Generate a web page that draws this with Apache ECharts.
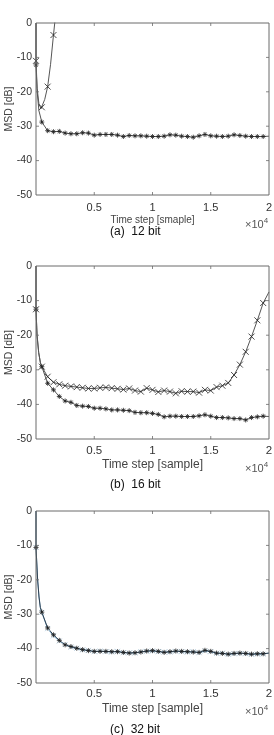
<!DOCTYPE html>
<html>
<head>
<meta charset="utf-8">
<script src="https://cdn.jsdelivr.net/npm/echarts@6/dist/echarts.min.js"></script>
<style>
	html, body { margin: 0; padding: 0; background: #fff; }
	#main { width: 274px; height: 735px; }
</style>
</head>
<body>
<div id="main"></div>
<script>
// marker positions (samples), one marker every 500 samples
var markSteps = [0, 500, 1000, 1500, 2000, 2500, 3000, 3500, 4000, 4500,
	5000, 5500, 6000, 6500, 7000, 7500, 8000, 8500, 9000, 9500,
	10000, 10500, 11000, 11500, 12000, 12500, 13000, 13500, 14000, 14500,
	15000, 15500, 16000, 16500, 17000, 17500, 18000, 18500, 19000, 19500];

// (a) 12 bit
var a12Star = [-12.2, -28.8, -31.3, -31.6, -31.5, -32.0, -32.2, -32.2, -31.9, -32.0,
	-32.6, -32.4, -32.4, -32.4, -32.6, -33.0, -32.7, -32.8, -32.8, -32.9,
	-33.0, -33.0, -32.9, -32.5, -32.6, -32.9, -33.0, -33.2, -32.8, -32.4,
	-32.8, -32.9, -33.0, -32.9, -32.5, -32.7, -32.9, -33.0, -33.0, -33.0];
var a12StarExtraSteps = [0, 100, 250, 20000];
var a12StarExtra = [0, -20, -25.5, -32.9];
var a12CrossSteps = [0, 500, 1000, 1500];
var a12Cross = [-11, -24.5, -18.5, -3.5];
var a12CrossExtraSteps = [0, 100, 250, 430, 750, 1250, 1700];
var a12CrossExtra = [0, -19, -23.5, -24.9, -22.2, -12, 3];

// (b) 16 bit
var b16Cross = [-12.5, -29.1, -32.0, -33.6, -34.2, -34.6, -34.8, -35.0, -35.2, -35.4,
	-35.4, -35.2, -35.1, -35.3, -35.5, -35.7, -35.4, -36.0, -36.3, -35.3,
	-35.8, -36.4, -36.0, -36.3, -36.8, -36.2, -36.3, -36.3, -36.6, -35.8,
	-36.0, -35.0, -34.6, -33.8, -31.5, -28.5, -24.8, -20.4, -15.7, -10.7];
var b16CrossExtraSteps = [0, 90, 230, 380, 20000];
var b16CrossExtra = [0, -20, -25, -28, -7.5];
var b16Star = [-12.5, -29.1, -33.9, -35.8, -37.7, -39.0, -39.4, -40.3, -40.5, -40.6,
	-41.1, -41.1, -41.3, -41.6, -41.6, -41.7, -41.8, -42.3, -42.4, -42.4,
	-42.6, -42.9, -43.6, -43.4, -43.4, -43.5, -43.5, -43.5, -43.3, -43.0,
	-43.4, -43.8, -43.8, -43.9, -44.1, -44.1, -44.5, -43.8, -43.6, -43.4];
var b16StarExtraSteps = [0, 90, 230, 380, 20000];
var b16StarExtra = [0, -20, -25, -28, -43.5];

// (c) 32 bit
var c32Star = [-10.6, -29.4, -34.0, -36.0, -37.6, -38.9, -39.4, -39.9, -40.3, -40.6,
	-40.8, -40.8, -40.8, -40.9, -40.9, -41.1, -41.3, -41.2, -41.0, -40.7,
	-40.6, -40.8, -41.1, -40.9, -40.7, -40.8, -40.9, -41.0, -41.1, -40.5,
	-40.8, -41.3, -41.4, -41.6, -41.4, -41.3, -41.4, -41.6, -41.5, -41.5];
var c32Blue = [-10.6, -29.5, -34.2, -36.3, -37.8, -38.8, -39.6, -39.9, -40.4, -40.5,
	-40.9, -40.7, -40.9, -41.0, -40.8, -41.2, -41.2, -41.3, -40.9, -40.8,
	-40.7, -40.9, -41.0, -41.0, -40.8, -40.9, -41.0, -40.9, -41.2, -40.7,
	-40.9, -41.4, -41.3, -41.7, -41.5, -41.4, -41.5, -41.7, -41.6, -41.6];
var c32ExtraSteps = [0, 140, 260, 370, 20000];
var c32Extra = [0, -20, -25, -28, -41.3];

// axis range and tick values
var xMin = 0, xMax = 20000;
var yMin = -50, yMax = 0;
var xTickVals = [5000, 10000, 15000];
var yTickVals = [-10, -20, -30, -40];

// marker shapes
var SYM_X = 'path://M0,0L10,10M10,0L0,10';
var SYM_STAR = 'path://M5,0L5,10M0,5L10,5M1.6,1.6L8.4,8.4M8.4,1.6L1.6,8.4';

function pairs(xs, ys) {
	var out = [];
	for (var i = 0; i < ys.length; i++) {
		out.push([xs[i], ys[i]]);
	}
	return out;
}

// line = extra points + marker points, ordered by sample
function lineData(extraX, extraY, markX, markY) {
	var all = pairs(extraX, extraY).concat(pairs(markX, markY));
	all.sort(function(a, b) { return a[0] - b[0]; });
	return all;
}

var panels = [
	{ top: 23, height: 172, xName: 'Time step [smaple]', xNameSize: 10, tickSize: 11, tickMargin: 7, caption: '(a)  12 bit', capY: 233, expY: 224 },
	{ top: 266, height: 173, xName: 'Time step [sample]', xNameSize: 12, tickSize: 11.5, tickMargin: 6, caption: '(b)  16 bit', capY: 486, expY: 468 },
	{ top: 511, height: 172, xName: 'Time step [sample]', xNameSize: 12, tickSize: 11.5, tickMargin: 5, caption: '(c)  32 bit', capY: 731, expY: 711 }
];

var grids = [], xAxes = [], yAxes = [], series = [], graphics = [];
var frameColor = '#6a6a6a';

for (var p = 0; p < panels.length; p++) {
	var pn = panels[p];
	grids.push({
		left: 36, width: 233, top: pn.top, height: pn.height,
		outerBoundsMode: 'none'
	});

	xAxes.push({
		gridIndex: p, type: 'value', position: 'bottom', min: xMin, max: xMax, interval: 5000,
		name: pn.xName, nameLocation: 'middle', nameGap: 20, nameMoveOverlap: false,
		nameTextStyle: { fontSize: pn.xNameSize, color: '#444', fontFamily: 'Liberation Sans' },
		axisLine: { show: false },
		axisTick: { show: false },
		axisLabel: {
			fontSize: pn.tickSize, color: '#333', fontFamily: 'Liberation Sans', margin: pn.tickMargin,
			showMinLabel: false,
			formatter: function(v) { return String(v / 10000); }
		},
		splitLine: { show: false }
	});
	yAxes.push({
		gridIndex: p, type: 'value', position: 'left', min: yMin, max: yMax, interval: 10,
		name: 'MSD [dB]', nameLocation: 'middle', nameGap: 21, nameMoveOverlap: false,
		nameTextStyle: { fontSize: 10.5, color: '#444', fontFamily: 'Liberation Sans' },
		axisLine: { show: false },
		axisTick: { show: false },
		axisLabel: { fontSize: 10.5, color: '#333', fontFamily: 'Liberation Sans', margin: 4 },
		splitLine: { show: false }
	});

	// box round the plot, drawn through the axes
	series.push({
		type: 'line', xAxisIndex: p, yAxisIndex: p, clip: false, showSymbol: false,
		data: [[xMin, yMax], [xMax, yMax], [xMax, yMin], [xMin, yMin], [xMin, yMax]],
		lineStyle: { color: frameColor, width: 1 }, z: 6, silent: true
	});
	// inward ticks on all four sides
	var tickStyle = { color: frameColor };
	series.push({
		type: 'scatter', xAxisIndex: p, yAxisIndex: p, clip: false, silent: true, z: 6,
		data: pairs(xTickVals, [yMin, yMin, yMin]),
		symbol: 'rect', symbolSize: [1, 3], symbolOffset: [0, -1.5], itemStyle: tickStyle
	});
	series.push({
		type: 'scatter', xAxisIndex: p, yAxisIndex: p, clip: false, silent: true, z: 6,
		data: pairs(xTickVals, [yMax, yMax, yMax]),
		symbol: 'rect', symbolSize: [1, 3], symbolOffset: [0, 1.5], itemStyle: tickStyle
	});
	series.push({
		type: 'scatter', xAxisIndex: p, yAxisIndex: p, clip: false, silent: true, z: 6,
		data: pairs([xMin, xMin, xMin, xMin], yTickVals),
		symbol: 'rect', symbolSize: [3, 1], symbolOffset: [1.5, 0], itemStyle: tickStyle
	});
	series.push({
		type: 'scatter', xAxisIndex: p, yAxisIndex: p, clip: false, silent: true, z: 6,
		data: pairs([xMax, xMax, xMax, xMax], yTickVals),
		symbol: 'rect', symbolSize: [3, 1], symbolOffset: [-1.5, 0], itemStyle: tickStyle
	});

	graphics.push({
		type: 'text', left: 245, top: pn.expY - 7,
		style: {
			text: '{a|×10}{b|4}',
			rich: {
				a: { fontSize: 11, fill: '#555', fontFamily: 'Liberation Sans' },
				b: { fontSize: 8, fill: '#555', fontFamily: 'Liberation Sans', padding: [0, 0, 7, 0] }
			}
		}
	});
	graphics.push({
		type: 'text', left: 110, top: pn.capY - 7,
		style: { text: pn.caption, fontSize: 12, fill: '#111', fontFamily: 'Liberation Sans' }
	});
}

function addCurve(panelIdx, lineColor, lData, mData, sym, symSize, symColor) {
	series.push({
		type: 'line', xAxisIndex: panelIdx, yAxisIndex: panelIdx,
		data: lData, showSymbol: false,
		lineStyle: { color: lineColor, width: 1 }, z: 2
	});
	series.push({
		type: 'scatter', xAxisIndex: panelIdx, yAxisIndex: panelIdx,
		data: mData, symbol: sym, symbolSize: symSize,
		itemStyle: { color: 'transparent', borderColor: symColor, borderWidth: 1 }, z: 3
	});
}

// (a)
addCurve(0, '#555', lineData(a12StarExtraSteps, a12StarExtra, markSteps, a12Star),
	pairs(markSteps, a12Star), SYM_STAR, 5, '#222');
addCurve(0, '#555', lineData(a12CrossExtraSteps, a12CrossExtra, a12CrossSteps, a12Cross),
	pairs(a12CrossSteps, a12Cross), SYM_X, 6, '#222');
// (b)
addCurve(1, '#555', lineData(b16StarExtraSteps, b16StarExtra, markSteps, b16Star),
	pairs(markSteps, b16Star), SYM_STAR, 5, '#222');
addCurve(1, '#555', lineData(b16CrossExtraSteps, b16CrossExtra, markSteps, b16Cross),
	pairs(markSteps, b16Cross), SYM_X, 6, '#222');
// (c)
addCurve(2, '#6f9fc2', lineData(c32ExtraSteps, c32Extra, markSteps, c32Blue),
	pairs(markSteps, c32Blue), SYM_X, 5, '#a9c6da');
addCurve(2, '#2f4050', lineData(c32ExtraSteps, c32Extra, markSteps, c32Star),
	pairs(markSteps, c32Star), SYM_STAR, 5, '#1a1a1a');

var myChart = echarts.init(document.getElementById('main'));
myChart.setOption({
	animation: false,
	grid: grids,
	xAxis: xAxes,
	yAxis: yAxes,
	series: series,
	graphic: graphics
});
</script>
</body>
</html>
